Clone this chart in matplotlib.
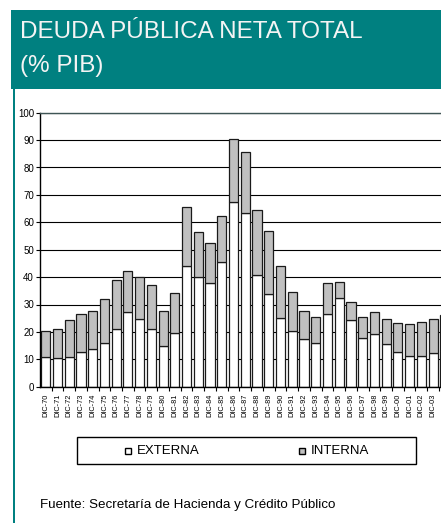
"""Deuda publica neta total (% PIB), barras apiladas externa / interna."""
import numpy as np
import matplotlib
matplotlib.use("Agg")
import matplotlib.pyplot as plt
from matplotlib.patches import Rectangle

plt.rcParams["font.family"] = ["Liberation Sans", "DejaVu Sans"]

years = ["70", "71", "72", "73", "74", "75", "76", "77", "78", "79",
         "80", "81", "82", "83", "84", "85", "86", "87", "88", "89",
         "90", "91", "92", "93", "94", "95", "96", "97", "98", "99",
         "00", "01", "02", "03", "04"]
labels = ["DIC-" + y for y in years]

total = [20.4, 20.9, 24.3, 26.6, 27.7, 31.9, 38.8, 42.3, 40.0, 37.1,
         27.7, 34.2, 65.7, 56.3, 52.3, 62.3, 90.3, 85.5, 64.5, 56.8,
         44.2, 34.7, 27.7, 25.4, 37.7, 38.3, 30.8, 25.4, 27.3, 24.7,
         23.1, 23.0, 23.7, 24.8, 26.3]
externa = [10.7, 10.3, 10.9, 12.5, 13.9, 15.9, 21.2, 27.3, 24.7, 21.2,
           14.8, 19.7, 44.2, 40.1, 37.7, 45.4, 67.5, 63.5, 40.8, 33.7,
           24.9, 20.3, 17.3, 16.1, 26.5, 32.5, 24.3, 17.9, 19.1, 15.5,
           12.5, 11.3, 11.3, 12.2, 13.0]
interna = [t - e for t, e in zip(total, externa)]
series = ["EXTERNA", "INTERNA"]
colors = ["white", "#c0c0c0"]

TEAL = "#008080"
W, H = 441, 525

fig = plt.figure(figsize=(W / 100, H / 100), dpi=100)
fig.patch.set_facecolor("white")

# encabezado
fig.patches.append(Rectangle((11 / W, 1 - 89 / H), 1, 79 / H, transform=fig.transFigure,
                             facecolor=TEAL, edgecolor="none", zorder=0))
fig.text(20 / W, 1 - 38.5 / H, "DEUDA PÚBLICA NETA TOTAL", color="#f4f4f4",
         fontsize=17.5, va="baseline", ha="left")
fig.text(20 / W, 1 - 72 / H, "(% PIB)", color="#f4f4f4",
         fontsize=17.5, va="baseline", ha="left")
fig.patches.append(Rectangle((13 / W, 1 - 523 / H), 2 / W, 434 / H, transform=fig.transFigure,
                             facecolor=TEAL, edgecolor="none", zorder=0))

ax = fig.add_axes([39.5 / W, 1 - 386.7 / H, 411.2 / W, 274 / H])
x = np.arange(len(labels))
bw = 0.78
ax.bar(x, externa, bw, color=colors[0], edgecolor="#1a1a1a", lw=0.9, zorder=2)
ax.bar(x, interna, bw, bottom=externa, color=colors[1], edgecolor="#1a1a1a", lw=0.9, zorder=2)

ax.set_xlim(-0.53, len(labels) - 0.5)
ax.set_ylim(0, 100)
ax.set_yticks(range(0, 101, 10))
ax.yaxis.grid(True, color="black", lw=0.8, zorder=0)
ax.set_axisbelow(True)
ax.tick_params(axis="y", direction="out", length=3, width=0.8, pad=1, labelsize=7)
ax.set_xticks(x)
ax.set_xticklabels(labels, rotation=90, fontsize=5.3)
ax.set_xticks(x[:-1] + 0.5, minor=True)
ax.tick_params(axis="x", which="major", length=0, pad=5)
ax.tick_params(axis="x", which="minor", direction="out", length=3, width=0.8)
ax.spines["right"].set_visible(False)
ax.spines["top"].set_color("#3f5555")
ax.spines["top"].set_linewidth(1.0)
for s in ("left", "bottom"):
    ax.spines[s].set_color("black")
    ax.spines[s].set_linewidth(1.0)

# leyenda
fig.patches.append(Rectangle((77 / W, 1 - 464 / H), 339 / W, 27 / H, transform=fig.transFigure,
                             facecolor="white", edgecolor="black", lw=1.0))
for name, col, mx in zip(series, colors, [125, 299]):
    fig.patches.append(Rectangle((mx / W, 1 - 454 / H), 6 / W, 6 / H, transform=fig.transFigure,
                                 facecolor=col, edgecolor="black", lw=1.0))
    fig.text((mx + 12) / W, 1 - 450.5 / H, name, fontsize=9.5, va="center", ha="left")

fig.text(40 / W, 1 - 505 / H, "Fuente: Secretaría de Hacienda y Crédito Público",
         fontsize=9.6, va="center", ha="left")

fig.savefig("out.png", dpi=100)
